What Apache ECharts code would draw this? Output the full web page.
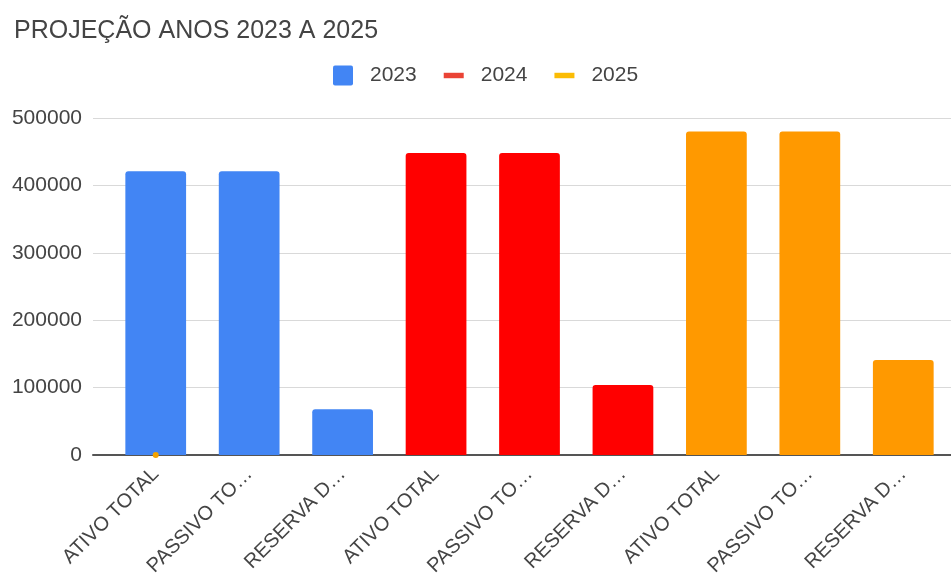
<!DOCTYPE html>
<html>
<head>
<meta charset="utf-8">
<script src="https://cdn.jsdelivr.net/npm/echarts@6/dist/echarts.min.js"></script>
<style>
  html, body { margin: 0; padding: 0; background: #fff; }
  #chart { width: 951px; height: 581px; }
</style>
</head>
<body>
<div id="chart"></div>
<script>
  // categorias e valores
  const categories = ['ATIVO TOTAL', 'PASSIVO TO…', 'RESERVA D…',
    'ATIVO TOTAL', 'PASSIVO TO…', 'RESERVA D…',
    'ATIVO TOTAL', 'PASSIVO TO…', 'RESERVA D…']
  const values2023 = [421000, 421000, 68000, 448000, 448000, 104000, 480000, 480000, 141000]
  const barColors = ['#4285F4', '#4285F4', '#4285F4', '#FF0000', '#FF0000', '#FF0000', '#FF9900', '#FF9900', '#FF9900']
  const values2024 = [null, null, null, null, null, null, null, null, null]
  const values2025 = [0, null, null, null, null, null, null, null, null]
  const yTicks = [0, 100000, 200000, 300000, 400000, 500000]

  const font = '"Liberation Sans", Arial, sans-serif'
  const chart = echarts.init(document.getElementById('chart'))
  const lineIcon = 'path://M0,0 L22,0 L22,6 L0,6 Z'
  const squareIcon = 'path://M2,0 L18,0 Q20,0 20,2 L20,18 Q20,20 18,20 L2,20 Q0,20 0,18 L0,2 Q0,0 2,0 Z'

  chart.setOption({
    animation: false,
    title: {
      text: 'PROJEÇÃO ANOS 2023 A 2025',
      left: 9,
      top: 14,
      textStyle: { fontFamily: font, fontSize: 25, fontWeight: 'normal', color: '#444' }
    },
    legend: {
      top: 65,
      left: 333,
      padding: 0,
      itemGap: 27,
      itemWidth: 20,
      itemHeight: 20,
      textStyle: { fontFamily: font, fontSize: 21, color: '#444', padding: [0, 0, 0, 12] },
      data: [
        { name: '2023', icon: squareIcon, itemStyle: { color: '#4285F4' } },
        { name: '2024', icon: lineIcon, itemStyle: { color: '#EA4335' } },
        { name: '2025', icon: lineIcon, itemStyle: { color: '#FBBC04' } }
      ]
    },
    grid: [
      { left: 93, right: 0, top: 118, bottom: 126 },
      { left: 109, right: 1, top: 118, bottom: 126 }
    ],
    xAxis: [
      {
        type: 'value',
        gridIndex: 0,
        axisLabel: { show: false },
        axisTick: { show: false },
        splitLine: { show: false },
        axisLine: { show: true, lineStyle: { color: '#555', width: 2 } }
      },
      {
        type: 'category',
        gridIndex: 1,
        data: categories,
        axisLine: { show: false },
        axisTick: { show: false },
        axisLabel: {
          interval: 0,
          rotate: 45,
          margin: 16,
          fontFamily: font,
          fontSize: 20,
          color: '#444'
        }
      }
    ],
    yAxis: [
      {
        type: 'value',
        gridIndex: 0,
        min: 0,
        max: 500000,
        interval: 100000,
        axisLine: { show: false },
        axisTick: { show: false },
        axisLabel: {
          margin: 11,
          fontFamily: font,
          fontSize: 21,
          color: '#444',
          formatter: v => (yTicks.indexOf(v) >= 0 ? String(v) : '')
        },
        splitLine: { lineStyle: { color: '#d9d9d9', width: 1 } }
      },
      {
        type: 'value',
        gridIndex: 1,
        min: 0,
        max: 500000,
        interval: 100000,
        show: false
      }
    ],
    series: [
      {
        name: '2023',
        type: 'bar',
        xAxisIndex: 1,
        yAxisIndex: 1,
        barWidth: '65%',
        itemStyle: { borderRadius: [3, 3, 0, 0] },
        data: values2023.map((v, i) => ({ value: v, itemStyle: { color: barColors[i] } })),
        z: 2
      },
      {
        name: '2024',
        type: 'line',
        xAxisIndex: 1,
        yAxisIndex: 1,
        color: '#EA4335',
        symbolSize: 6,
        data: values2024
      },
      {
        name: '2025',
        type: 'line',
        xAxisIndex: 1,
        yAxisIndex: 1,
        color: '#F4A300',
        symbol: 'circle',
        symbolSize: 6,
        showAllSymbol: true,
        data: values2025,
        z: 5
      }
    ]
  })
</script>
</body>
</html>
